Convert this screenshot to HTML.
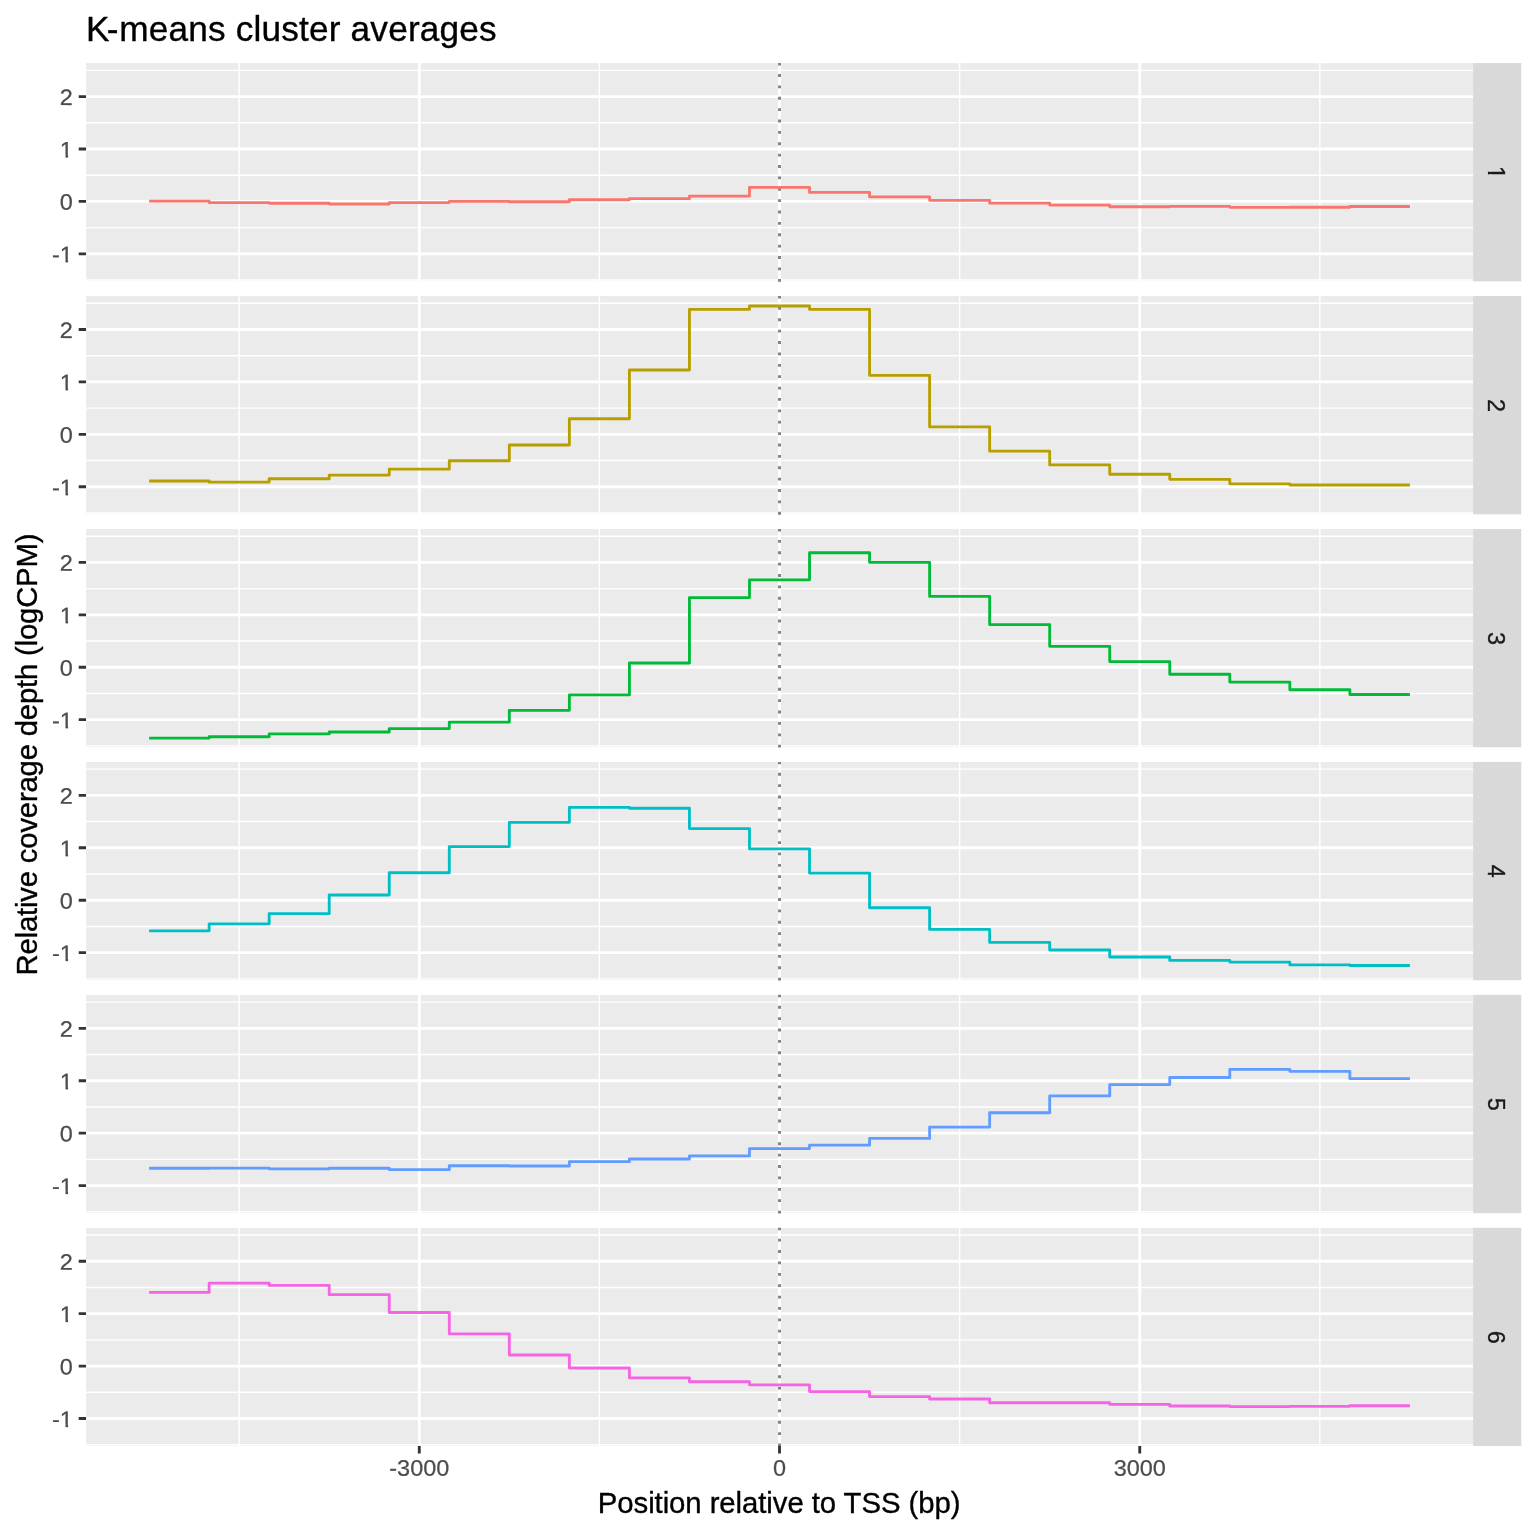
<!DOCTYPE html>
<html lang="en"><head><meta charset="utf-8"><title>K-means cluster averages</title>
<style>
html,body{margin:0;padding:0;background:#fff;}
body{width:1536px;height:1536px;overflow:hidden;font-family:"Liberation Sans",sans-serif;}
svg{display:block;}
</style></head><body>
<svg width="1536" height="1536" viewBox="0 0 1536 1536" font-family="'Liberation Sans', sans-serif">
<rect width="1536" height="1536" fill="#fff"/>
<defs>
<clipPath id="c0"><rect x="86.06" y="63.10" width="1387.04" height="218.27"/></clipPath>
<clipPath id="c1"><rect x="86.06" y="296.04" width="1387.04" height="218.27"/></clipPath>
<clipPath id="c2"><rect x="86.06" y="528.98" width="1387.04" height="218.27"/></clipPath>
<clipPath id="c3"><rect x="86.06" y="761.92" width="1387.04" height="218.27"/></clipPath>
<clipPath id="c4"><rect x="86.06" y="994.86" width="1387.04" height="218.27"/></clipPath>
<clipPath id="c5"><rect x="86.06" y="1227.80" width="1387.04" height="218.27"/></clipPath>
<clipPath id="k1e"><path d="M-40-30H5V-2.8H-4.8V1H-7.45V-2.8H-40Z"/></clipPath>
<clipPath id="k1m"><path d="M-12-30H12V-2.8H1.75V1H-0.9V-2.8H-12Z"/></clipPath>
</defs>
<g clip-path="url(#c0)">
<rect x="86.06" y="63.10" width="1387.04" height="218.27" fill="#EBEBEB"/>
<path d="M86.06 280.02H1473.10M86.06 227.60H1473.10M86.06 175.18H1473.10M86.06 122.76H1473.10M86.06 70.34H1473.10M239.16 63.10V281.37M599.39 63.10V281.37M959.63 63.10V281.37M1319.86 63.10V281.37" stroke="#fff" stroke-width="1.4225" fill="none"/>
<path d="M86.06 253.81H1473.10M86.06 201.39H1473.10M86.06 148.97H1473.10M86.06 96.55H1473.10M419.28 63.10V281.37M779.51 63.10V281.37M1139.74 63.10V281.37" stroke="#fff" stroke-width="2.845" fill="none"/>
</g>
<path d="M779.51 281.72V63.10" stroke="#7F7F7F" stroke-width="2.845" stroke-dasharray="2.845 8.535" stroke-dashoffset="0" fill="none"/>
<path d="M149.10 201.18H209.14V202.60H269.18V203.28H329.22V204.01H389.26V202.60H449.30V201.44H509.33V201.76H569.37V199.76H629.41V198.66H689.45V196.10H749.49V187.34H809.53V192.43H869.57V196.93H929.61V200.34H989.65V203.07H1049.69V205.11H1109.72V206.79H1169.76V206.37H1229.80V207.37H1289.84V207.26H1349.88V206.53H1409.92" stroke="#F8766D" stroke-width="2.845" fill="none" stroke-linejoin="round" stroke-linecap="butt"/>
<rect x="1473.10" y="63.10" width="48.20" height="218.27" fill="#D9D9D9"/>
<text transform="translate(1488.4 172.54) rotate(90)" text-anchor="middle" font-size="23.47" fill="#1A1A1A" stroke="#1A1A1A" stroke-width="0.35" clip-path="url(#k1m)">1</text>
<text transform="translate(72.9 262.26) rotate(0.03) scale(1 0.955)" text-anchor="end" font-size="23.47" fill="#4D4D4D" stroke="#4D4D4D" stroke-width="0.25" clip-path="url(#k1e)">-1</text>
<text transform="translate(72.9 209.84) rotate(0.03) scale(1 0.955)" text-anchor="end" font-size="23.47" fill="#4D4D4D" stroke="#4D4D4D" stroke-width="0.25">0</text>
<text transform="translate(72.9 157.42) rotate(0.03) scale(1 0.955)" text-anchor="end" font-size="23.47" fill="#4D4D4D" stroke="#4D4D4D" stroke-width="0.25" clip-path="url(#k1e)">1</text>
<text transform="translate(72.9 105.00) rotate(0.03) scale(1 0.955)" text-anchor="end" font-size="23.47" fill="#4D4D4D" stroke="#4D4D4D" stroke-width="0.25">2</text>
<path d="M78.73 253.81H86.06M78.73 201.39H86.06M78.73 148.97H86.06M78.73 96.55H86.06" stroke="#333" stroke-width="2.845" fill="none"/>
<g clip-path="url(#c1)">
<rect x="86.06" y="296.04" width="1387.04" height="218.27" fill="#EBEBEB"/>
<path d="M86.06 512.96H1473.10M86.06 460.54H1473.10M86.06 408.12H1473.10M86.06 355.70H1473.10M86.06 303.28H1473.10M239.16 296.04V514.31M599.39 296.04V514.31M959.63 296.04V514.31M1319.86 296.04V514.31" stroke="#fff" stroke-width="1.4225" fill="none"/>
<path d="M86.06 486.75H1473.10M86.06 434.33H1473.10M86.06 381.91H1473.10M86.06 329.49H1473.10M419.28 296.04V514.31M779.51 296.04V514.31M1139.74 296.04V514.31" stroke="#fff" stroke-width="2.845" fill="none"/>
</g>
<path d="M779.51 514.66V296.04" stroke="#7F7F7F" stroke-width="2.845" stroke-dasharray="2.845 8.535" stroke-dashoffset="0" fill="none"/>
<path d="M149.10 481.04H209.14V482.14H269.18V478.78H329.22V475.11H389.26V469.19H449.30V460.75H509.33V444.97H569.37V418.76H629.41V369.96H689.45V309.41H749.49V306.01H809.53V309.41H869.57V375.36H929.61V426.89H989.65V451.16H1049.69V464.94H1109.72V474.27H1169.76V479.31H1229.80V483.81H1289.84V484.97H1349.88V484.97H1409.92" stroke="#B79F00" stroke-width="2.845" fill="none" stroke-linejoin="round" stroke-linecap="butt"/>
<rect x="1473.10" y="296.04" width="48.20" height="218.27" fill="#D9D9D9"/>
<text transform="translate(1488.4 405.48) rotate(90)" text-anchor="middle" font-size="23.47" fill="#1A1A1A" stroke="#1A1A1A" stroke-width="0.35">2</text>
<text transform="translate(72.9 495.20) rotate(0.03) scale(1 0.955)" text-anchor="end" font-size="23.47" fill="#4D4D4D" stroke="#4D4D4D" stroke-width="0.25" clip-path="url(#k1e)">-1</text>
<text transform="translate(72.9 442.78) rotate(0.03) scale(1 0.955)" text-anchor="end" font-size="23.47" fill="#4D4D4D" stroke="#4D4D4D" stroke-width="0.25">0</text>
<text transform="translate(72.9 390.36) rotate(0.03) scale(1 0.955)" text-anchor="end" font-size="23.47" fill="#4D4D4D" stroke="#4D4D4D" stroke-width="0.25" clip-path="url(#k1e)">1</text>
<text transform="translate(72.9 337.94) rotate(0.03) scale(1 0.955)" text-anchor="end" font-size="23.47" fill="#4D4D4D" stroke="#4D4D4D" stroke-width="0.25">2</text>
<path d="M78.73 486.75H86.06M78.73 434.33H86.06M78.73 381.91H86.06M78.73 329.49H86.06" stroke="#333" stroke-width="2.845" fill="none"/>
<g clip-path="url(#c2)">
<rect x="86.06" y="528.98" width="1387.04" height="218.27" fill="#EBEBEB"/>
<path d="M86.06 745.90H1473.10M86.06 693.48H1473.10M86.06 641.06H1473.10M86.06 588.64H1473.10M86.06 536.22H1473.10M239.16 528.98V747.25M599.39 528.98V747.25M959.63 528.98V747.25M1319.86 528.98V747.25" stroke="#fff" stroke-width="1.4225" fill="none"/>
<path d="M86.06 719.69H1473.10M86.06 667.27H1473.10M86.06 614.85H1473.10M86.06 562.43H1473.10M419.28 528.98V747.25M779.51 528.98V747.25M1139.74 528.98V747.25" stroke="#fff" stroke-width="2.845" fill="none"/>
</g>
<path d="M779.51 747.60V528.98" stroke="#7F7F7F" stroke-width="2.845" stroke-dasharray="2.845 8.535" stroke-dashoffset="0" fill="none"/>
<path d="M149.10 738.19H209.14V736.78H269.18V733.95H329.22V732.01H389.26V728.60H449.30V722.15H509.33V710.31H569.37V694.95H629.41V662.97H689.45V597.55H749.49V579.83H809.53V552.73H869.57V562.33H929.61V596.45H989.65V624.60H1049.69V646.30H1109.72V661.56H1169.76V674.24H1229.80V682.10H1289.84V689.71H1349.88V694.53H1409.92" stroke="#00BA38" stroke-width="2.845" fill="none" stroke-linejoin="round" stroke-linecap="butt"/>
<rect x="1473.10" y="528.98" width="48.20" height="218.27" fill="#D9D9D9"/>
<text transform="translate(1488.4 638.41) rotate(90)" text-anchor="middle" font-size="23.47" fill="#1A1A1A" stroke="#1A1A1A" stroke-width="0.35">3</text>
<text transform="translate(72.9 728.14) rotate(0.03) scale(1 0.955)" text-anchor="end" font-size="23.47" fill="#4D4D4D" stroke="#4D4D4D" stroke-width="0.25" clip-path="url(#k1e)">-1</text>
<text transform="translate(72.9 675.72) rotate(0.03) scale(1 0.955)" text-anchor="end" font-size="23.47" fill="#4D4D4D" stroke="#4D4D4D" stroke-width="0.25">0</text>
<text transform="translate(72.9 623.30) rotate(0.03) scale(1 0.955)" text-anchor="end" font-size="23.47" fill="#4D4D4D" stroke="#4D4D4D" stroke-width="0.25" clip-path="url(#k1e)">1</text>
<text transform="translate(72.9 570.88) rotate(0.03) scale(1 0.955)" text-anchor="end" font-size="23.47" fill="#4D4D4D" stroke="#4D4D4D" stroke-width="0.25">2</text>
<path d="M78.73 719.69H86.06M78.73 667.27H86.06M78.73 614.85H86.06M78.73 562.43H86.06" stroke="#333" stroke-width="2.845" fill="none"/>
<g clip-path="url(#c3)">
<rect x="86.06" y="761.92" width="1387.04" height="218.27" fill="#EBEBEB"/>
<path d="M86.06 978.84H1473.10M86.06 926.42H1473.10M86.06 874.00H1473.10M86.06 821.58H1473.10M86.06 769.16H1473.10M239.16 761.92V980.19M599.39 761.92V980.19M959.63 761.92V980.19M1319.86 761.92V980.19" stroke="#fff" stroke-width="1.4225" fill="none"/>
<path d="M86.06 952.63H1473.10M86.06 900.21H1473.10M86.06 847.79H1473.10M86.06 795.37H1473.10M419.28 761.92V980.19M779.51 761.92V980.19M1139.74 761.92V980.19" stroke="#fff" stroke-width="2.845" fill="none"/>
</g>
<path d="M779.51 980.54V761.92" stroke="#7F7F7F" stroke-width="2.845" stroke-dasharray="2.845 8.535" stroke-dashoffset="0" fill="none"/>
<path d="M149.10 930.82H209.14V923.80H269.18V913.63H329.22V895.02H389.26V872.79H449.30V846.58H509.33V822.31H569.37V807.43H629.41V808.27H689.45V828.55H749.49V848.84H809.53V873.06H869.57V907.71H929.61V929.41H989.65V942.41H1049.69V950.01H1109.72V957.03H1169.76V960.44H1229.80V962.12H1289.84V964.95H1349.88V965.53H1409.92" stroke="#00BFC4" stroke-width="2.845" fill="none" stroke-linejoin="round" stroke-linecap="butt"/>
<rect x="1473.10" y="761.92" width="48.20" height="218.27" fill="#D9D9D9"/>
<text transform="translate(1488.4 871.35) rotate(90)" text-anchor="middle" font-size="23.47" fill="#1A1A1A" stroke="#1A1A1A" stroke-width="0.35">4</text>
<text transform="translate(72.9 961.08) rotate(0.03) scale(1 0.955)" text-anchor="end" font-size="23.47" fill="#4D4D4D" stroke="#4D4D4D" stroke-width="0.25" clip-path="url(#k1e)">-1</text>
<text transform="translate(72.9 908.66) rotate(0.03) scale(1 0.955)" text-anchor="end" font-size="23.47" fill="#4D4D4D" stroke="#4D4D4D" stroke-width="0.25">0</text>
<text transform="translate(72.9 856.24) rotate(0.03) scale(1 0.955)" text-anchor="end" font-size="23.47" fill="#4D4D4D" stroke="#4D4D4D" stroke-width="0.25" clip-path="url(#k1e)">1</text>
<text transform="translate(72.9 803.82) rotate(0.03) scale(1 0.955)" text-anchor="end" font-size="23.47" fill="#4D4D4D" stroke="#4D4D4D" stroke-width="0.25">2</text>
<path d="M78.73 952.63H86.06M78.73 900.21H86.06M78.73 847.79H86.06M78.73 795.37H86.06" stroke="#333" stroke-width="2.845" fill="none"/>
<g clip-path="url(#c4)">
<rect x="86.06" y="994.86" width="1387.04" height="218.27" fill="#EBEBEB"/>
<path d="M86.06 1211.78H1473.10M86.06 1159.36H1473.10M86.06 1106.94H1473.10M86.06 1054.52H1473.10M86.06 1002.10H1473.10M239.16 994.86V1213.13M599.39 994.86V1213.13M959.63 994.86V1213.13M1319.86 994.86V1213.13" stroke="#fff" stroke-width="1.4225" fill="none"/>
<path d="M86.06 1185.57H1473.10M86.06 1133.15H1473.10M86.06 1080.73H1473.10M86.06 1028.31H1473.10M419.28 994.86V1213.13M779.51 994.86V1213.13M1139.74 994.86V1213.13" stroke="#fff" stroke-width="2.845" fill="none"/>
</g>
<path d="M779.51 1213.48V994.86" stroke="#7F7F7F" stroke-width="2.845" stroke-dasharray="2.845 8.535" stroke-dashoffset="0" fill="none"/>
<path d="M149.10 1168.27H209.14V1168.17H269.18V1168.85H329.22V1168.27H389.26V1169.69H449.30V1165.76H509.33V1166.02H569.37V1161.67H629.41V1158.99H689.45V1155.90H749.49V1148.56H809.53V1145.15H869.57V1138.39H929.61V1127.12H989.65V1112.76H1049.69V1095.88H1109.72V1084.61H1169.76V1077.53H1229.80V1069.35H1289.84V1071.35H1349.88V1078.69H1409.92" stroke="#619CFF" stroke-width="2.845" fill="none" stroke-linejoin="round" stroke-linecap="butt"/>
<rect x="1473.10" y="994.86" width="48.20" height="218.27" fill="#D9D9D9"/>
<text transform="translate(1488.4 1104.30) rotate(90)" text-anchor="middle" font-size="23.47" fill="#1A1A1A" stroke="#1A1A1A" stroke-width="0.35">5</text>
<text transform="translate(72.9 1194.02) rotate(0.03) scale(1 0.955)" text-anchor="end" font-size="23.47" fill="#4D4D4D" stroke="#4D4D4D" stroke-width="0.25" clip-path="url(#k1e)">-1</text>
<text transform="translate(72.9 1141.60) rotate(0.03) scale(1 0.955)" text-anchor="end" font-size="23.47" fill="#4D4D4D" stroke="#4D4D4D" stroke-width="0.25">0</text>
<text transform="translate(72.9 1089.18) rotate(0.03) scale(1 0.955)" text-anchor="end" font-size="23.47" fill="#4D4D4D" stroke="#4D4D4D" stroke-width="0.25" clip-path="url(#k1e)">1</text>
<text transform="translate(72.9 1036.76) rotate(0.03) scale(1 0.955)" text-anchor="end" font-size="23.47" fill="#4D4D4D" stroke="#4D4D4D" stroke-width="0.25">2</text>
<path d="M78.73 1185.57H86.06M78.73 1133.15H86.06M78.73 1080.73H86.06M78.73 1028.31H86.06" stroke="#333" stroke-width="2.845" fill="none"/>
<g clip-path="url(#c5)">
<rect x="86.06" y="1227.80" width="1387.04" height="218.27" fill="#EBEBEB"/>
<path d="M86.06 1444.72H1473.10M86.06 1392.30H1473.10M86.06 1339.88H1473.10M86.06 1287.46H1473.10M86.06 1235.04H1473.10M239.16 1227.80V1446.07M599.39 1227.80V1446.07M959.63 1227.80V1446.07M1319.86 1227.80V1446.07" stroke="#fff" stroke-width="1.4225" fill="none"/>
<path d="M86.06 1418.51H1473.10M86.06 1366.09H1473.10M86.06 1313.67H1473.10M86.06 1261.25H1473.10M419.28 1227.80V1446.07M779.51 1227.80V1446.07M1139.74 1227.80V1446.07" stroke="#fff" stroke-width="2.845" fill="none"/>
</g>
<path d="M779.51 1446.42V1227.80" stroke="#7F7F7F" stroke-width="2.845" stroke-dasharray="2.845 8.535" stroke-dashoffset="0" fill="none"/>
<path d="M149.10 1292.44H209.14V1283.16H269.18V1285.42H329.22V1294.69H389.26V1312.46H449.30V1333.85H509.33V1355.03H569.37V1367.98H629.41V1377.83H689.45V1381.76H749.49V1384.86H809.53V1391.62H869.57V1396.70H929.61V1398.96H989.65V1402.78H1049.69V1402.78H1109.72V1404.30H1169.76V1406.03H1229.80V1406.56H1289.84V1406.30H1349.88V1405.72H1409.92" stroke="#F564E3" stroke-width="2.845" fill="none" stroke-linejoin="round" stroke-linecap="butt"/>
<rect x="1473.10" y="1227.80" width="48.20" height="218.27" fill="#D9D9D9"/>
<text transform="translate(1488.4 1337.23) rotate(90)" text-anchor="middle" font-size="23.47" fill="#1A1A1A" stroke="#1A1A1A" stroke-width="0.35">6</text>
<text transform="translate(72.9 1426.96) rotate(0.03) scale(1 0.955)" text-anchor="end" font-size="23.47" fill="#4D4D4D" stroke="#4D4D4D" stroke-width="0.25" clip-path="url(#k1e)">-1</text>
<text transform="translate(72.9 1374.54) rotate(0.03) scale(1 0.955)" text-anchor="end" font-size="23.47" fill="#4D4D4D" stroke="#4D4D4D" stroke-width="0.25">0</text>
<text transform="translate(72.9 1322.12) rotate(0.03) scale(1 0.955)" text-anchor="end" font-size="23.47" fill="#4D4D4D" stroke="#4D4D4D" stroke-width="0.25" clip-path="url(#k1e)">1</text>
<text transform="translate(72.9 1269.70) rotate(0.03) scale(1 0.955)" text-anchor="end" font-size="23.47" fill="#4D4D4D" stroke="#4D4D4D" stroke-width="0.25">2</text>
<path d="M78.73 1418.51H86.06M78.73 1366.09H86.06M78.73 1313.67H86.06M78.73 1261.25H86.06" stroke="#333" stroke-width="2.845" fill="none"/>
<text transform="translate(419.28 1475.8) rotate(0.03) scale(1 0.955)" text-anchor="middle" font-size="23.47" fill="#4D4D4D" stroke="#4D4D4D" stroke-width="0.25">-3000</text>
<text transform="translate(779.51 1475.8) rotate(0.03) scale(1 0.955)" text-anchor="middle" font-size="23.47" fill="#4D4D4D" stroke="#4D4D4D" stroke-width="0.25">0</text>
<text transform="translate(1139.74 1475.8) rotate(0.03) scale(1 0.955)" text-anchor="middle" font-size="23.47" fill="#4D4D4D" stroke="#4D4D4D" stroke-width="0.25">3000</text>
<path d="M419.28 1446.07V1453.40M779.51 1446.07V1453.40M1139.74 1446.07V1453.40" stroke="#333" stroke-width="2.845" fill="none"/>
<text transform="translate(779.08 1512.7) scale(1 1.02)" text-anchor="middle" letter-spacing="-0.065" font-size="29.33" fill="#000" stroke="#000" stroke-width="0.35">Position relative to TSS (bp)</text>
<text transform="translate(37.2 754.58) rotate(-90) scale(1 1.02)" text-anchor="middle" font-size="29.33" fill="#000" stroke="#000" stroke-width="0.35" letter-spacing="-0.2">Relative coverage depth (logCPM)</text>
<text transform="translate(86.06 40.6) scale(1 1.02)" dx="0 -2.67 0.67 0.169 0.169 0.169 0.169 0.169 0.169 0.169 0.169 0.169 0.169 0.169 0.169 0.169 0.169 0.169 0.169 0.169 0.169 0.169 0.169 0.169" font-size="35.2" fill="#000" stroke="#000" stroke-width="0.35">K-means cluster averages</text>
</svg>
</body></html>
